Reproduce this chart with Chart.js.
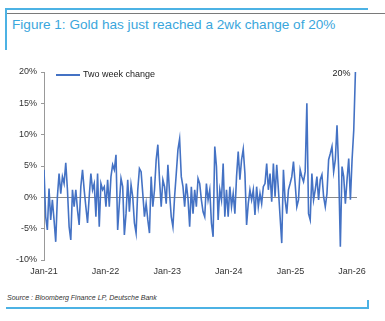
<!DOCTYPE html>
<html>
<head>
<meta charset="utf-8">
<script src="https://cdn.jsdelivr.net/npm/chart.js@4.4.1/dist/chart.umd.min.js"></script>
<style>
    body { margin: 0; width: 385px; height: 321px; background: #fff; position: relative; overflow: hidden; font-family: "Liberation Sans", Arial, sans-serif; }
    .blue { position: absolute; background: #4cb2e4; }
    .rule { position: absolute; left: 6px; top: 13px; width: 379px; height: 1px; background: #7a7a7a; }
    #title { position: absolute; left: 12px; top: 17px; font-size: 13.6px; color: #3aa6dc; white-space: nowrap; }
    #chartBox { position: absolute; left: 0; top: 60px; }
    #source { position: absolute; left: 7px; top: 294px; font-size: 7px; font-style: italic; color: #333; white-space: nowrap; }
</style>
</head>
<body>
<div class="blue" style="left:6px; top:8px; width:362px; height:2px;"></div>
<div class="rule"></div>
<div class="blue" style="left:5px; top:8px; width:2px; height:42px;"></div>
<div id="title">Figure 1: Gold has just reached a 2wk change of 20%</div>
<div id="chartBox"><canvas id="goldChart" width="385" height="225"></canvas></div>
<div id="source">Source : Bloomberg Finance LP, Deutsche Bank</div>
<div class="blue" style="left:6px; top:307px; width:363px; height:2px;"></div>
<div class="blue" style="left:367px; top:300px; width:2px; height:9px;"></div>

<script>
// axis ticks
const tickYears = [2021, 2022, 2023, 2024, 2025, 2026];
const yTicks = [-10, -5, 0, 5, 10, 15, 20];
const seriesName = 'Two week change';

// readings taken roughly every ten days, starting Jan-21
const pointsPerYear = 36.8;
const twoWeekChange = [
    // 2021
    4.4, -3.1, -5.2, 1.4, -3.6, -0.4, -3.6, -7.1, 0.1, 3.8, 0.6, 3.3, 2.2, 5.5, 1.2, -4.7, -6.8,
    1.2, -1.5, 1.2, -2.0, -4.4, 1.7, 4.4, 1.2, -1.5, -4.1, 0.1, 3.8, 1.2, 2.2, -3.1, 3.8,
    // 2022
    -4.7, 2.2, 1.2, 1.7, -1.5, 2.8, -1.5, 3.3, 5.2, 4.4, 6.8, -5.2, -1.0, 3.0, 1.7, -6.0,
    -2.6, 2.8, -2.3, 2.0, 0.1, -4.1, -5.7, 1.2, 4.6, 4.1, 0.6, -3.1, -1.0, -3.6,
    // 2023
    -5.7, 3.3, -1.5, 1.2, 6.0, 8.4, 2.8, -1.5, 2.8, 1.7, -1.0, 5.2, 0.6, -3.1, -4.7, 0.1, 3.8,
    7.6, 9.3, 3.3, 1.7, -1.5, 2.2, -0.2, -4.7, 1.7, -2.6, 1.2, -1.5, 3.0, 2.2, -0.4, -2.3, -3.1, 2.2,
    // 2024
    -0.4, 1.2, -4.1, -6.3, 8.1, 4.9, -3.6, 1.2, -0.4, 5.4, -3.1, 1.2, -3.1, 1.7, -1.5, 0.6, -2.6,
    3.3, 7.3, 2.8, 6.0, 7.7, 3.8, -4.4, -1.0, 1.2, -0.4, 1.2, -2.8, 1.7, -1.5, 0.6, -1.0, 1.7,
    // 2025
    2.2, 5.4, 1.2, 3.8, -0.7, 5.4, 0.1, 5.2, 1.2, -3.1, -7.3, 4.4, -0.4, -2.6, 1.2, 2.2, 3.3,
    5.7, 2.2, -1.5, -0.4, 4.4, 3.3, 2.5, 4.1, 15.0, -2.6, -3.6, 3.8, -0.4, 1.2, 3.3, -0.4,
    2.8, 3.6, 0.1, -1.5, 0.6, 6.0, 7.0, 8.1, 4.1, 6.0, 11.5, 4.4, -7.9, 4.9, 3.3, -1.0, 2.8,
    6.2, -0.4, 6.0, 10.7,
    // Jan-26
    20.0
];

const points = twoWeekChange.map((v, i) => ({ x: 2021 + i / pointsPerYear, y: v }));

// legend and end label drawn straight onto the canvas
const labelPlugin = {
    id: 'labels',
    afterDatasetsDraw(chart) {
        const ctx = chart.ctx;
        const area = chart.chartArea;
        ctx.save();
        // legend
        ctx.strokeStyle = '#4472c4';
        ctx.lineWidth = 2;
        ctx.beginPath();
        ctx.moveTo(area.left + 12, area.top + 3);
        ctx.lineTo(area.left + 36, area.top + 3);
        ctx.stroke();
        ctx.fillStyle = '#222';
        ctx.font = '9px "Liberation Sans", Arial, sans-serif';
        ctx.textBaseline = 'middle';
        ctx.fillText(seriesName, area.left + 39, area.top + 3);
        // last value
        const last = points[points.length - 1];
        const px = chart.scales.x.getPixelForValue(last.x);
        const py = chart.scales.y.getPixelForValue(last.y);
        ctx.textAlign = 'right';
        ctx.fillText(last.y + '%', px - 5, py + 2);
        ctx.restore();
    }
};

const ctx = document.getElementById('goldChart').getContext('2d');
new Chart(ctx, {
    type: 'line',
    data: {
        datasets: [{
            label: seriesName,
            data: points,
            borderColor: '#4472c4',
            borderWidth: 1.6,
            pointRadius: 0,
            tension: 0,
            fill: false
        }]
    },
    options: {
        responsive: false,
        animation: false,
        layout: { padding: { top: 12, right: 28, bottom: 0, left: 0 } },
        plugins: {
            legend: { display: false },
            tooltip: { enabled: false }
        },
        scales: {
            x: {
                type: 'linear',
                min: 2021,
                max: 2026.08,
                afterBuildTicks: (scale) => { scale.ticks = tickYears.map(v => ({ value: v })); },
                afterFit: (scale) => { scale.height = 25; },
                grid: { display: false, drawTicks: false },
                border: { display: false },
                ticks: {
                    autoSkip: false,
                    maxRotation: 0,
                    padding: 6,
                    color: '#333',
                    font: { size: 9, family: '"Liberation Sans", Arial, sans-serif' },
                    callback: (v) => 'Jan-' + String(v).slice(2)
                }
            },
            y: {
                min: -10,
                max: 20,
                afterBuildTicks: (scale) => { scale.ticks = yTicks.map(v => ({ value: v })); },
                afterFit: (scale) => { scale.width = 44; },
                grid: {
                    color: (c) => (c.tick && c.tick.value === 0 ? '#8a8a8a' : 'rgba(0,0,0,0)'),
                    tickColor: '#999',
                    tickLength: 3,
                    lineWidth: 1
                },
                border: { display: true, color: '#999' },
                ticks: {
                    padding: 4,
                    color: '#333',
                    font: { size: 9, family: '"Liberation Sans", Arial, sans-serif' },
                    callback: (v) => v + '%'
                }
            }
        }
    },
    plugins: [labelPlugin]
});
</script>
</body>
</html>
